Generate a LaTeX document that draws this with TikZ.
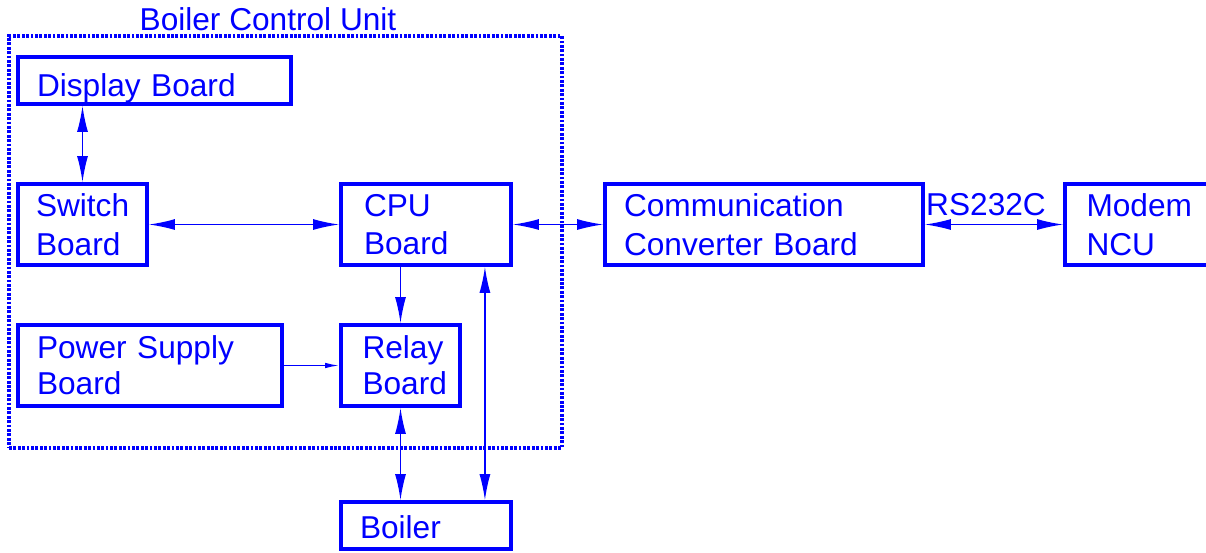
\documentclass[tikz,border=0pt]{standalone}
\usepackage{fontspec}
\setmainfont{Liberation Sans}
\usetikzlibrary{arrows.meta}
\begin{document}
\begin{tikzpicture}[
  x=0.02cm, y=-0.02cm, color=blue,
  font=\fontsize{18}{22}\selectfont,
  >={Latex[length=0.52cm,width=0.22cm]},
  box/.style={draw, line width=2.2pt, inner xsep=0.38cm, inner ysep=0pt, align=left},
  grp/.style={draw, line width=2.4pt, dash pattern=on 1.6pt off 0.9pt},
  link/.style={line width=0.8pt, <->},
  oneway/.style={line width=0.8pt, ->},
  feed/.style={line width=0.8pt, -{Latex[length=0.28cm,width=0.11cm]}}
]
  \clip (0,0) rectangle (1206,552);
  \node[grp, minimum width=11.06cm, minimum height=8.24cm] (bcu) at (285.5,242) {};
  \node (bcutitle) at (268,19) {Boiler Control Unit};
  \node[box, minimum width=5.46cm, minimum height=0.94cm, text width=4.70cm, text height=18pt, text depth=0pt] (display) at (154.5,80.5) {Display Board};
  \node[box, inner xsep=0.36cm, minimum width=2.58cm, minimum height=1.62cm, text width=1.86cm] (switch) at (82.5,224.5) {Switch\\Board};
  \node[box, inner xsep=0.46cm, minimum width=3.40cm, minimum height=1.62cm, text width=2.48cm] (cpu) at (426,224.5) {CPU\\Board};
  \node[box, minimum width=5.28cm, minimum height=1.62cm, text width=4.52cm] (power) at (150,365.5) {Power Supply\\[-0.06cm]Board};
  \node[box, inner xsep=0.43cm, minimum width=2.38cm, minimum height=1.62cm, text width=1.52cm] (relay) at (400.5,365.5) {Relay\\[-0.06cm]Board};
  \node[box, minimum width=3.40cm, minimum height=0.94cm, text width=2.64cm, text height=15pt, text depth=0pt] (boiler) at (426,525.5) {Boiler};
  \node[box, minimum width=6.36cm, minimum height=1.62cm, text width=5.60cm] (comm) at (764,224.5) {Communication\\Converter Board};
  \node[box, inner xsep=0.43cm, minimum width=3.20cm, minimum height=1.62cm, text width=2.34cm] (modem) at (1145,224.5) {Modem\\NCU};
  \node (rs) at (986,205) {RS232C};
  \draw[link] (switch.north |- display.south) -- (switch.north);
  \draw[link] (switch.east) -- (cpu.west);
  \draw[link] (cpu.east) -- (comm.west);
  \draw[link] (comm.east) -- (modem.west);
  \draw[oneway] (relay.north |- cpu.south) -- (relay.north);
  \draw[feed] (power.east) -- (relay.west);
  \draw[link] (relay.south) -- (relay.south |- boiler.north);
  \draw[link] ([xshift=-0.56cm]cpu.south east) -- ([xshift=-0.56cm]cpu.south east |- boiler.north);
\end{tikzpicture}
\end{document}
